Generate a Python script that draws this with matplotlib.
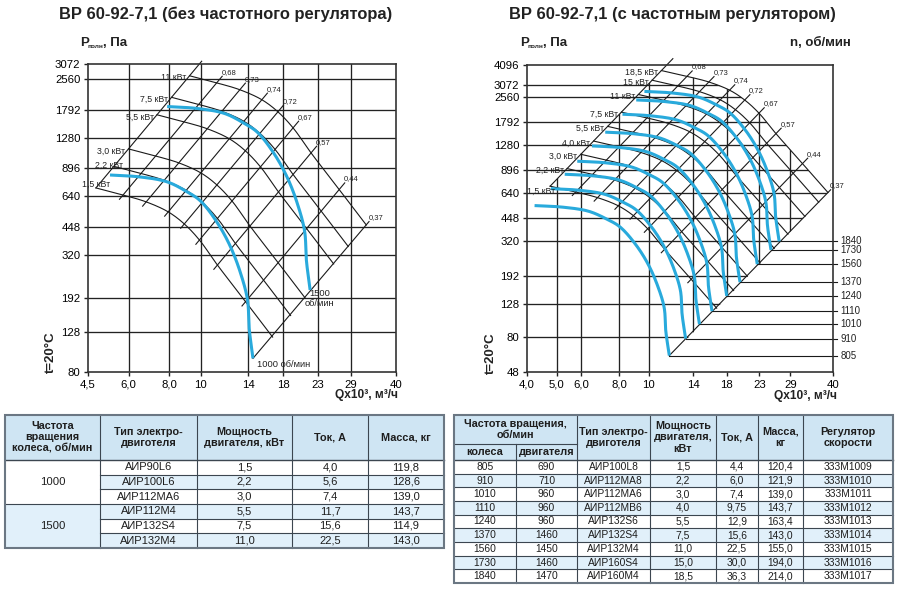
import numpy as np
import matplotlib
matplotlib.use('Agg')
import matplotlib.pyplot as plt
from matplotlib.patches import Polygon, Rectangle
from matplotlib.ticker import FixedLocator, FixedFormatter, NullLocator
import matplotlib.transforms as mtransforms

plt.rcParams['font.family'] = ['Liberation Sans', 'DejaVu Sans']

# ---------------------------------------------------------------- data
TITLE_L = 'ВР 60-92-7,1 (без частотного регулятора)'
TITLE_R = 'ВР 60-92-7,1 (с частотным регулятором)'

ETA_LABELS = ['η=0,6', '0,68', '0,73', '0,74', '0,72', '0,67', '0,57', '0,44', '0,37']
# 1.5 kW iso-power curve: points where it meets each efficiency line (Q x10^3 m3/h, Pa)
BASE_POWER = 1.5
BASE_Q = [4.76, 5.77, 6.80, 7.95, 8.91, 9.92, 11.27, 13.76, 16.67]
BASE_P = [708, 651, 600, 533, 462, 382, 284, 184, 121]
# fan characteristic at 1000 rpm
BASE_RPM = 1000
RPM_Q = [5.26, 6.52, 7.90, 9.10, 9.99, 11.27, 12.37, 13.27, 13.95, 14.12, 14.50]
RPM_P = [825, 806, 760, 675, 607, 468, 352, 259, 188, 134, 94]

LEFT_POWERS = [1.5, 2.2, 3.0, 5.5, 7.5, 11.0]
LEFT_POWER_LABELS = ['1,5 кВт', '2,2 кВт', '3,0 кВт', '5,5 кВт', '7,5 кВт', '11 кВт']
LEFT_RPMS = [1000, 1500]
LEFT_RPM_LABELS = ['1000 об/мин', '1500\nоб/мин']
LEFT_X_TICKS = [4.5, 6.0, 8.0, 10, 14, 18, 23, 29, 40]
LEFT_X_LABELS = ['4,5', '6,0', '8,0', '10', '14', '18', '23', '29', '40']
LEFT_Y_TICKS = [80, 128, 192, 320, 448, 640, 896, 1280, 1792, 2560, 3072]

RIGHT_POWERS = [1.5, 2.2, 3.0, 4.0, 5.5, 7.5, 11.0, 15.0, 18.5]
RIGHT_POWER_LABELS = ['1,5 кВт', '2,2 кВт', '3,0 кВт', '4,0 кВт', '5,5 кВт',
                      '7,5 кВт', '11 кВт', '15 кВт', '18,5 кВт']
RIGHT_RPMS = [805, 910, 1010, 1110, 1240, 1370, 1560, 1730, 1840]
RIGHT_X_TICKS = [4.0, 5.0, 6.0, 8.0, 10, 14, 18, 23, 29, 40]
RIGHT_X_LABELS = ['4,0', '5,0', '6,0', '8,0', '10', '14', '18', '23', '29', '40']
RIGHT_Y_TICKS = [48, 80, 128, 192, 320, 448, 640, 896, 1280, 1792, 2560, 3072, 4096]

# tables
LT_HEAD = ['Частота\nвращения\nколеса, об/мин', 'Тип электро-\nдвиготеля',
           'Мощность\nдвигателя, кВт', 'Ток, А', 'Масса, кг']
LT_SPEED = ['1000', '1500']
LT_MOTOR = ['АИР90L6', 'АИР100L6', 'АИР112МА6', 'АИР112М4', 'АИР132S4', 'АИР132М4']
LT_POWER = ['1,5', '2,2', '3,0', '5,5', '7,5', '11,0']
LT_CURRENT = ['4,0', '5,6', '7,4', '11,7', '15,6', '22,5']
LT_MASS = ['119,8', '128,6', '139,0', '143,7', '114,9', '143,0']

RT_HEAD_TOP = 'Частота вращения,\nоб/мин'
RT_HEAD_SUB = ['колеса', 'двигателя']
RT_HEAD = ['Тип электро-\nдвиготеля', 'Мощность\nдвигателя,\nкВт', 'Ток, А',
           'Масса,\nкг', 'Регулятор\nскорости']
RT_WHEEL = ['805', '910', '1010', '1110', '1240', '1370', '1560', '1730', '1840']
RT_ENGINE = ['690', '710', '960', '960', '960', '1460', '1450', '1460', '1470']
RT_MOTOR = ['АИР100L8', 'АИР112МА8', 'АИР112МА6', 'АИР112МВ6', 'АИР132S6',
            'АИР132S4', 'АИР132М4', 'АИР160S4', 'АИР160М4']
RT_POWER = ['1,5', '2,2', '3,0', '4,0', '5,5', '7,5', '11,0', '15,0', '18,5']
RT_CURRENT = ['4,4', '6,0', '7,4', '9,75', '12,9', '15,6', '22,5', '30,0', '36,3']
RT_MASS = ['120,4', '121,9', '139,0', '143,7', '163,4', '143,0', '155,0', '194,0', '214,0']
RT_REG = ['333М1009', '333М1010', '333М1011', '333М1012', '333М1013',
          '333М1014', '333М1015', '333М1016', '333М1017']

# ---------------------------------------------------------------- style
BLUE = '#29aadc'
INK = '#1a1a1a'
GRID = '#222222'
HEAD_BG = '#cfe5f3'
ALT_BG = '#e1f0fa'
TLINE = '#3c4650'


def cr_chain(pts, n=16, alpha=0.5):
    pts = np.asarray(pts, float)
    ext = np.vstack([2 * pts[0] - pts[1], pts, 2 * pts[-1] - pts[-2]])
    res = []
    for i in range(len(pts) - 1):
        P0, P1, P2, P3 = ext[i], ext[i + 1], ext[i + 2], ext[i + 3]
        t0 = 0.0
        t1 = t0 + max(np.linalg.norm(P1 - P0), 1e-6) ** alpha
        t2 = t1 + max(np.linalg.norm(P2 - P1), 1e-6) ** alpha
        t3 = t2 + max(np.linalg.norm(P3 - P2), 1e-6) ** alpha
        t = np.linspace(t1, t2, n, endpoint=False)[:, None]
        A1 = (t1 - t) / (t1 - t0) * P0 + (t - t0) / (t1 - t0) * P1
        A2 = (t2 - t) / (t2 - t1) * P1 + (t - t1) / (t2 - t1) * P2
        A3 = (t3 - t) / (t3 - t2) * P2 + (t - t2) / (t3 - t2) * P3
        B1 = (t2 - t) / (t2 - t0) * A1 + (t - t0) / (t2 - t0) * A2
        B2 = (t3 - t) / (t3 - t1) * A2 + (t - t1) / (t3 - t1) * A3
        res.append((t2 - t) / (t2 - t1) * B1 + (t - t1) / (t2 - t1) * B2)
    res.append(pts[-1:])
    return np.vstack(res)


def smooth_loglog(q, p):
    pts = np.column_stack([np.log10(q) * 320, np.log10(p) * 190])
    s = cr_chain(pts)
    return 10 ** (s[:, 0] / 320), 10 ** (s[:, 1] / 190)


fig = plt.figure(figsize=(9, 5.93), dpi=100)
ov = fig.add_axes([0, 0, 1, 1])
ov.set_xlim(0, 900)
ov.set_ylim(593, 0)
ov.axis('off')


def px_axes(l, t, r, b):
    return fig.add_axes([l / 900, 1 - b / 593, (r - l) / 900, (b - t) / 593])


def setup(ax, xt, xl, yt):
    ax.set_xscale('log')
    ax.set_yscale('log')
    ax.set_xlim(xt[0], xt[-1])
    ax.set_ylim(yt[0], yt[-1])
    ax.xaxis.set_major_locator(FixedLocator(xt))
    ax.xaxis.set_major_formatter(FixedFormatter(xl))
    ax.yaxis.set_major_locator(FixedLocator(yt))
    ax.yaxis.set_major_formatter(FixedFormatter([str(v) for v in yt]))
    ax.xaxis.set_minor_locator(NullLocator())
    ax.yaxis.set_minor_locator(NullLocator())
    ax.tick_params(length=3, width=1, labelsize=8.2, pad=2.5, color=GRID)
    for s in ax.spines.values():
        s.set_linewidth(1.2)
        s.set_color('#333333')


def draw_chart(ax, powers, plabels, rpms, xt, yt, nudges, clip):
    bq = np.asarray(BASE_Q, float)
    bp = np.asarray(BASE_P, float)
    rq = np.asarray(RPM_Q, float)
    rp = np.asarray(RPM_P, float)
    ks_p = [(pw / BASE_POWER) ** (1 / 3) for pw in powers]
    ks_n = [r / BASE_RPM for r in rpms]
    kmin, kmax = min(ks_p), max(ks_p)
    xmin, xmax = xt[0], xt[-1]
    ymin, ymax = yt[0], yt[-1]
    oq, op = smooth_loglog(bq * kmax, bp * kmax ** 2)

    vpoly = hpoly = None
    if clip:
        c06 = bp[0] / bq[0] ** 2
        c37 = bp[-1] / bq[-1] ** 2
        q_bot = np.sqrt(ymin / c37)
        hverts = [(xmin, ymin), (xmin, op[0])] + list(zip(oq, op)) + [(q_bot, ymin)]
        vverts = [(xmin, ymin), (xmin, c06 * xmin ** 2)] + list(zip(oq, op)) + [(q_bot, ymin)]
        hpoly = Polygon(hverts, closed=True, transform=ax.transData)
        vpoly = Polygon(vverts, closed=True, transform=ax.transData)
    for x in xt[1:-1]:
        ln, = ax.plot([x, x], [ymin, ymax], color=GRID, lw=0.95, zorder=1)
        if vpoly is not None:
            ln.set_clip_path(vpoly)
    for y in yt[1:-1]:
        ln, = ax.plot([xmin, xmax], [y, y], color=GRID, lw=0.95, zorder=1)
        if hpoly is not None:
            ln.set_clip_path(hpoly)

    # iso-power curves
    for k in ks_p:
        q, p = smooth_loglog(bq * k, bp * k ** 2)
        ax.plot(q, p, color=INK, lw=0.8, zorder=2)

    # blue fan curves at rpm
    kn_min = min(ks_n)
    ends = []
    for k in ks_n:
        q, p = smooth_loglog(rq * k, rp * k ** 2)
        ax.plot(q, p, color=BLUE, lw=2.2, zorder=3, solid_capstyle='butt')
        ends.append((q[-1], p[-1]))

    # efficiency lines
    n_eta = len(ETA_LABELS)
    for i, lab in enumerate(ETA_LABELS):
        lo, hi = kmin * 0.975, kmax * 1.04
        if i == 0:
            lo, hi = kmin, kmax * 1.09
        q0, p0 = bq[i] * lo, bp[i] * lo ** 2
        if i == n_eta - 1:
            hi = kmax * 1.02
            q0, p0 = rq[-1] * kn_min, rp[-1] * kn_min ** 2
        q1, p1 = bq[i] * hi, bp[i] * hi ** 2
        ax.plot([q0, q1], [p0, p1], color=INK, lw=0.8, zorder=2, clip_on=False)
        if i == 0:
            ax.annotate(lab, (q1, p1), xytext=(1, 0.5), textcoords='offset points',
                        ha='center', va='bottom', fontsize=5.5, color='#222')
        else:
            ax.annotate(lab, (q1, p1), xytext=(-0.5, 0.3), textcoords='offset points',
                        ha='left', va='bottom', fontsize=5.5, color='#222')

    # power labels
    for k, lab in zip(ks_p, plabels):
        dx, dy, ha = nudges.get(lab, (-2.5, -1.5, 'right'))
        ax.annotate(lab, (bq[0] * k, bp[0] * k ** 2), xytext=(dx, dy),
                    textcoords='offset points', ha=ha, va='center',
                    fontsize=6.3, color='#222', annotation_clip=False)
    return ends


# ---------------------------------------------------------------- left chart
axL = px_axes(88, 64, 396, 372)
setup(axL, LEFT_X_TICKS, LEFT_X_LABELS, LEFT_Y_TICKS)
endsL = draw_chart(axL, LEFT_POWERS, LEFT_POWER_LABELS, LEFT_RPMS,
                   LEFT_X_TICKS, LEFT_Y_TICKS,
                   {'1,5 кВт': (10.5, 2.5, 'right'), '2,2 кВт': (6.5, 0.8, 'right')},
                   clip=False)
axL.annotate(LEFT_RPM_LABELS[0], endsL[0], xytext=(3, -4.5), textcoords='offset points',
             ha='left', va='center', fontsize=6.7, color='#222')
axL.annotate(LEFT_RPM_LABELS[1], endsL[1], xytext=(7, 0.5), textcoords='offset points',
             ha='center', va='top', fontsize=6.7, color='#222', multialignment='center',
             linespacing=1.05)

# ---------------------------------------------------------------- right chart
axR = px_axes(527, 65, 833, 372)
setup(axR, RIGHT_X_TICKS, RIGHT_X_LABELS, RIGHT_Y_TICKS)
endsR = draw_chart(axR, RIGHT_POWERS, RIGHT_POWER_LABELS, RIGHT_RPMS,
                   RIGHT_X_TICKS, RIGHT_Y_TICKS,
                   {'1,5 кВт': (3.5, -4, 'right')}, clip=True)
trR = mtransforms.blended_transform_factory(axR.transAxes, axR.transData)
for (qe, pe), r in zip(endsR, RIGHT_RPMS):
    axR.plot([qe, 41.2], [pe, pe], color=INK, lw=0.8, zorder=2, clip_on=False)
    axR.text(1.024, pe, str(r), transform=trR, ha='left', va='center',
             fontsize=7.0, color='#222')

# ---------------------------------------------------------------- texts
ov.text(226, 14, TITLE_L, ha='center', va='center', fontsize=11.9, fontweight='bold', color='#222')
ov.text(672, 14, TITLE_R, ha='center', va='center', fontsize=11.9, fontweight='bold', color='#222')
for x0 in (80, 520):
    ov.text(x0, 43, 'Р', ha='left', va='center', fontsize=9.5, fontweight='bold', color='#222')
    ov.text(x0 + 8, 46, 'полн', ha='left', va='center', fontsize=4.6, fontweight='bold', color='#222')
    ov.text(x0 + 23, 43, ', Па', ha='left', va='center', fontsize=9.5, fontweight='bold', color='#222')
ov.text(851, 43, 'n, об/мин', ha='right', va='center', fontsize=9.5, fontweight='bold', color='#222')
ov.text(398, 395, 'Qx10³, м³/ч', ha='right', va='center', fontsize=8.6, fontweight='bold', color='#222')
ov.text(837, 396, 'Qx10³, м³/ч', ha='right', va='center', fontsize=8.6, fontweight='bold', color='#222')
ov.text(51, 352, 't=20°C', ha='center', va='center', rotation=90, fontsize=9.5,
        fontweight='bold', color='#222')
ov.text(491, 353, 't=20°C', ha='center', va='center', rotation=90, fontsize=9.5,
        fontweight='bold', color='#222')


# ---------------------------------------------------------------- tables
def cell(x0, y0, x1, y1, fc):
    ov.add_patch(Rectangle((x0, y0), x1 - x0, y1 - y0, facecolor=fc, edgecolor='none', zorder=1))


def hl(x0, x1, y, lw=0.8):
    ov.plot([x0, x1], [y, y], color=TLINE, lw=lw, zorder=2)


def vl(x, y0, y1, lw=0.8):
    ov.plot([x, x], [y0, y1], color=TLINE, lw=lw, zorder=2)


def txt(x, y, s, fs=7.8, bold=False):
    ov.text(x, y, s, ha='center', va='center', fontsize=fs,
            fontweight='bold' if bold else 'normal', color='#1e1e1e', linespacing=1.15, zorder=3)


# left table
LX = [5, 100, 197, 292, 368, 444]
LY0, LYH, LY1 = 415, 460, 548
nL = len(LT_MOTOR)
rhL = (LY1 - LYH) / nL
cell(LX[0], LY0, LX[-1], LYH, HEAD_BG)
for r in range(nL):
    y = LYH + r * rhL
    cell(LX[1], y, LX[-1], y + rhL, ALT_BG if r % 2 == 1 else 'white')
cell(LX[0], LYH, LX[1], LYH + 3 * rhL, 'white')
cell(LX[0], LYH + 3 * rhL, LX[1], LY1, ALT_BG)
for x in LX[1:-1]:
    vl(x, LY0, LY1)
hl(LX[0], LX[-1], LYH, 1.0)
for r in range(1, nL):
    y = LYH + r * rhL
    hl(LX[0] if r == 3 else LX[1], LX[-1], y)
ov.add_patch(Rectangle((LX[0], LY0), LX[-1] - LX[0], LY1 - LY0, facecolor='none',
                       edgecolor='#6b7783', lw=1.5, zorder=4))
for j, h in enumerate(LT_HEAD):
    txt((LX[j] + LX[j + 1]) / 2, (LY0 + LYH) / 2, h, fs=7.8, bold=True)
for g, s in enumerate(LT_SPEED):
    txt((LX[0] + LX[1]) / 2, LYH + (3 * g + 1.5) * rhL, s, fs=8.2)
for r in range(nL):
    yc = LYH + (r + 0.5) * rhL
    for j, col in enumerate([LT_MOTOR, LT_POWER, LT_CURRENT, LT_MASS]):
        txt((LX[j + 1] + LX[j + 2]) / 2, yc, col[r], fs=8.0)

# right table
RX = [454, 516, 577, 650, 716, 758, 803, 893]
RY0, RYS, RYH, RY1 = 415, 444, 460, 583
nR = len(RT_WHEEL)
rhR = (RY1 - RYH) / nR
cell(RX[0], RY0, RX[-1], RYH, HEAD_BG)
for r in range(nR):
    y = RYH + r * rhR
    cell(RX[0], y, RX[-1], y + rhR, ALT_BG if r % 2 == 1 else 'white')
for x in RX[2:-1]:
    vl(x, RY0, RY1)
vl(RX[1], RYS, RY1)
hl(RX[0], RX[2], RYS)
hl(RX[0], RX[-1], RYH, 1.0)
for r in range(1, nR):
    hl(RX[0], RX[-1], RYH + r * rhR)
ov.add_patch(Rectangle((RX[0], RY0), RX[-1] - RX[0], RY1 - RY0, facecolor='none',
                       edgecolor='#6b7783', lw=1.5, zorder=4))
txt((RX[0] + RX[2]) / 2, (RY0 + RYS) / 2, RT_HEAD_TOP, fs=7.8, bold=True)
for j, h in enumerate(RT_HEAD_SUB):
    txt((RX[j] + RX[j + 1]) / 2, (RYS + RYH) / 2, h, fs=7.8, bold=True)
for j, h in enumerate(RT_HEAD):
    txt((RX[j + 2] + RX[j + 3]) / 2, (RY0 + RYH) / 2, h, fs=7.8, bold=True)
for r in range(nR):
    yc = RYH + (r + 0.5) * rhR
    for j, col in enumerate([RT_WHEEL, RT_ENGINE, RT_MOTOR, RT_POWER, RT_CURRENT, RT_MASS, RT_REG]):
        txt((RX[j] + RX[j + 1]) / 2, yc, col[r], fs=7.4)

fig.savefig('out.png', dpi=100)
